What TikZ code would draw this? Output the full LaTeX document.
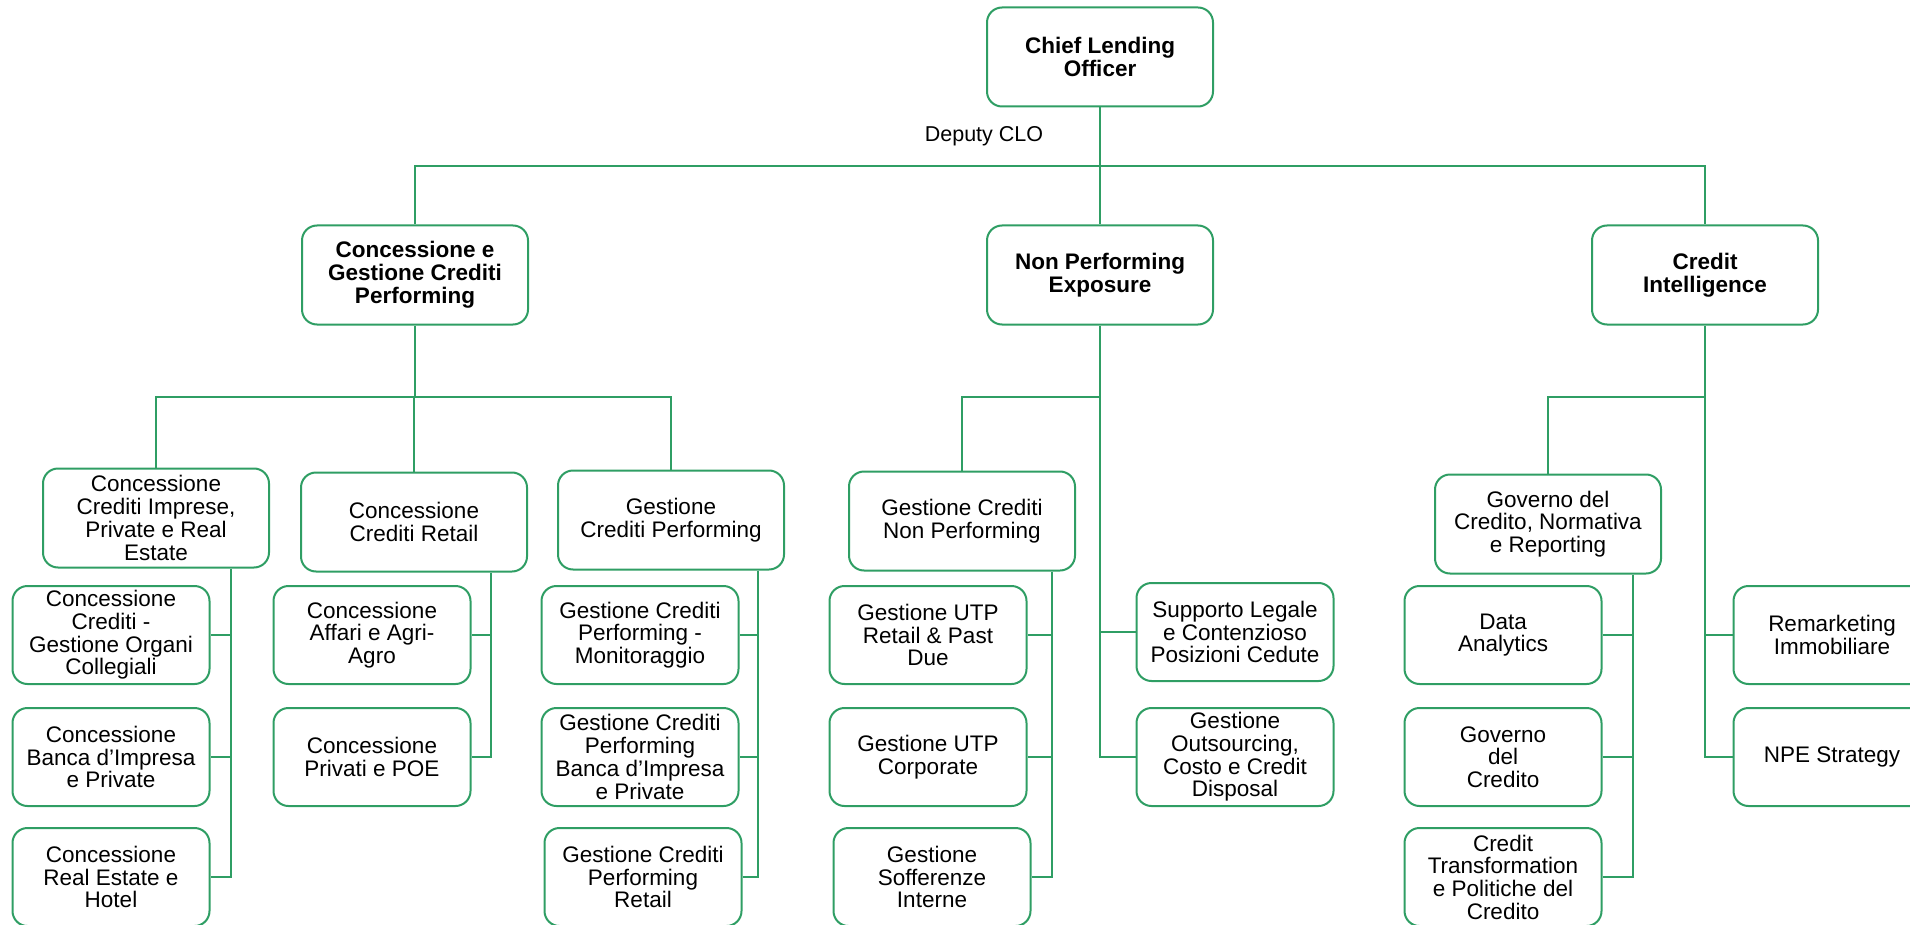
\documentclass[tikz,border=0pt]{standalone}
\usepackage{fontspec}
\setmainfont{Liberation Sans}
\definecolor{verde}{RGB}{47,158,100}
\tikzset{
        box/.style={draw=verde, line width=2pt, rounded corners=15pt, fill=white,
                minimum width=197pt, minimum height=98pt, inner sep=0pt, align=center,
                font=\fontsize{22.5}{22.7}\selectfont},
        bigbox/.style={box, minimum width=226pt, minimum height=99pt},
        titolo/.style={bigbox, font=\bfseries\fontsize{22.5}{23}\selectfont},
        conn/.style={draw=verde, line width=1.8pt},
}
\begin{document}
\begin{tikzpicture}[x=1pt, y=-1pt]
        \useasboundingbox (0,0) rectangle (1910,925);
        % Vertice
        \node[titolo] (clo) at (1100,57) {Chief Lending\\Officer};
        \node[font=\fontsize{21.5}{23}\selectfont] (deputy) at (984,136) {Deputy CLO};
        % Secondo livello
        \node[titolo] (cgp) at (415,275) {Concessione e\\Gestione Crediti\\Performing};
        \node[titolo] (npe) at (1100,275) {Non Performing\\Exposure};
        \node[titolo] (ci) at (1705,275) {Credit\\Intelligence};
        % Terzo livello
        \node[bigbox] (cir) at (156,518) {Concessione\\Crediti Imprese,\\Private e Real\\Estate};
        \node[bigbox] (ccr) at (414,522) {Concessione\\Crediti Retail};
        \node[bigbox] (gcp) at (671,520) {Gestione\\Crediti Performing};
        \node[bigbox] (gcnp) at (962,521) {Gestione Crediti\\Non Performing};
        \node[bigbox] (gov) at (1548,524) {Governo del\\Credito, Normativa\\e Reporting};
        % Uffici
        \node[box] (cir1) at (111,635) {Concessione\\Crediti -\\Gestione Organi\\Collegiali};
        \node[box] (cir2) at (111,757) {Concessione\\Banca d’Impresa\\e Private};
        \node[box] (cir3) at (111,877) {Concessione\\Real Estate e\\Hotel};
        \node[box] (ccr1) at (372,635) {Concessione\\Affari e Agri-\\Agro};
        \node[box] (ccr2) at (372,757) {Concessione\\Privati e POE};
        \node[box] (gcp1) at (640,635) {Gestione Crediti\\Performing -\\Monitoraggio};
        \node[box] (gcp2) at (640,757) {Gestione Crediti\\Performing\\Banca d’Impresa\\e Private};
        \node[box] (gcp3) at (643,877) {Gestione Crediti\\Performing\\Retail};
        \node[box] (gcnp1) at (928,635) {Gestione UTP\\Retail \& Past\\Due};
        \node[box] (gcnp2) at (928,757) {Gestione UTP\\Corporate};
        \node[box] (gcnp3) at (932,877) {Gestione\\Sofferenze\\Interne};
        \node[box] (npe1) at (1235,632) {Supporto Legale\\e Contenzioso\\Posizioni Cedute};
        \node[box] (npe2) at (1235,757) {Gestione\\Outsourcing,\\Costo e Credit\\Disposal};
        \node[box] (gov1) at (1503,635) {Data\\Analytics};
        \node[box] (gov2) at (1503,757) {Governo\\del\\Credito};
        \node[box] (gov3) at (1503,877) {Credit\\Transformation\\e Politiche del\\Credito};
        \node[box] (ci1) at (1832,635) {Remarketing\\Immobiliare};
        \node[box] (ci2) at (1832,757) {NPE Strategy};
        % Linee orizzontali
        \coordinate (bus2) at (0,166);
        \coordinate (bus3) at (0,397);
        % Colonne dei collegamenti
        \coordinate (bcir) at (231,0);
        \coordinate (bccr) at (491,0);
        \coordinate (bgcp) at (758,0);
        \coordinate (bgcnp) at (1052,0);
        \coordinate (bgov) at (1633,0);
        % Collegamenti alti
        \draw[conn] (clo.south) -- (npe.north);
        \draw[conn] (cgp.north) |- (ci.north |- bus2) -- (ci.north);
        \draw[conn] (cgp.south) -- (cgp.south |- bus3);
        \draw[conn] (cir.north) |- (gcp.north |- bus3) -- (gcp.north);
        \draw[conn] (ccr.north) -- (ccr.north |- bus3);
        \draw[conn] (gcnp.north) |- (npe.south |- bus3);
        \draw[conn] (gov.north) |- (ci.south |- bus3);
        % Collegamenti agli uffici
        \draw[conn] (cir.south -| bcir) |- (cir3.east);
        \foreach \u in {cir1,cir2}
            \draw[conn] (bcir |- \u.east) -- (\u.east);
        \draw[conn] (ccr.south -| bccr) |- (ccr2.east);
        \draw[conn] (bccr |- ccr1.east) -- (ccr1.east);
        \draw[conn] (gcp.south -| bgcp) |- (gcp3.east);
        \foreach \u in {gcp1,gcp2}
            \draw[conn] (bgcp |- \u.east) -- (\u.east);
        \draw[conn] (gcnp.south -| bgcnp) |- (gcnp3.east);
        \foreach \u in {gcnp1,gcnp2}
            \draw[conn] (bgcnp |- \u.east) -- (\u.east);
        \draw[conn] (gov.south -| bgov) |- (gov3.east);
        \foreach \u in {gov1,gov2}
            \draw[conn] (bgov |- \u.east) -- (\u.east);
        \draw[conn] (npe.south) |- (npe2.west);
        \draw[conn] (npe.south |- npe1.west) -- (npe1.west);
        \draw[conn] (ci.south) |- (ci2.west);
        \draw[conn] (ci.south |- ci1.west) -- (ci1.west);
\end{tikzpicture}
\end{document}
